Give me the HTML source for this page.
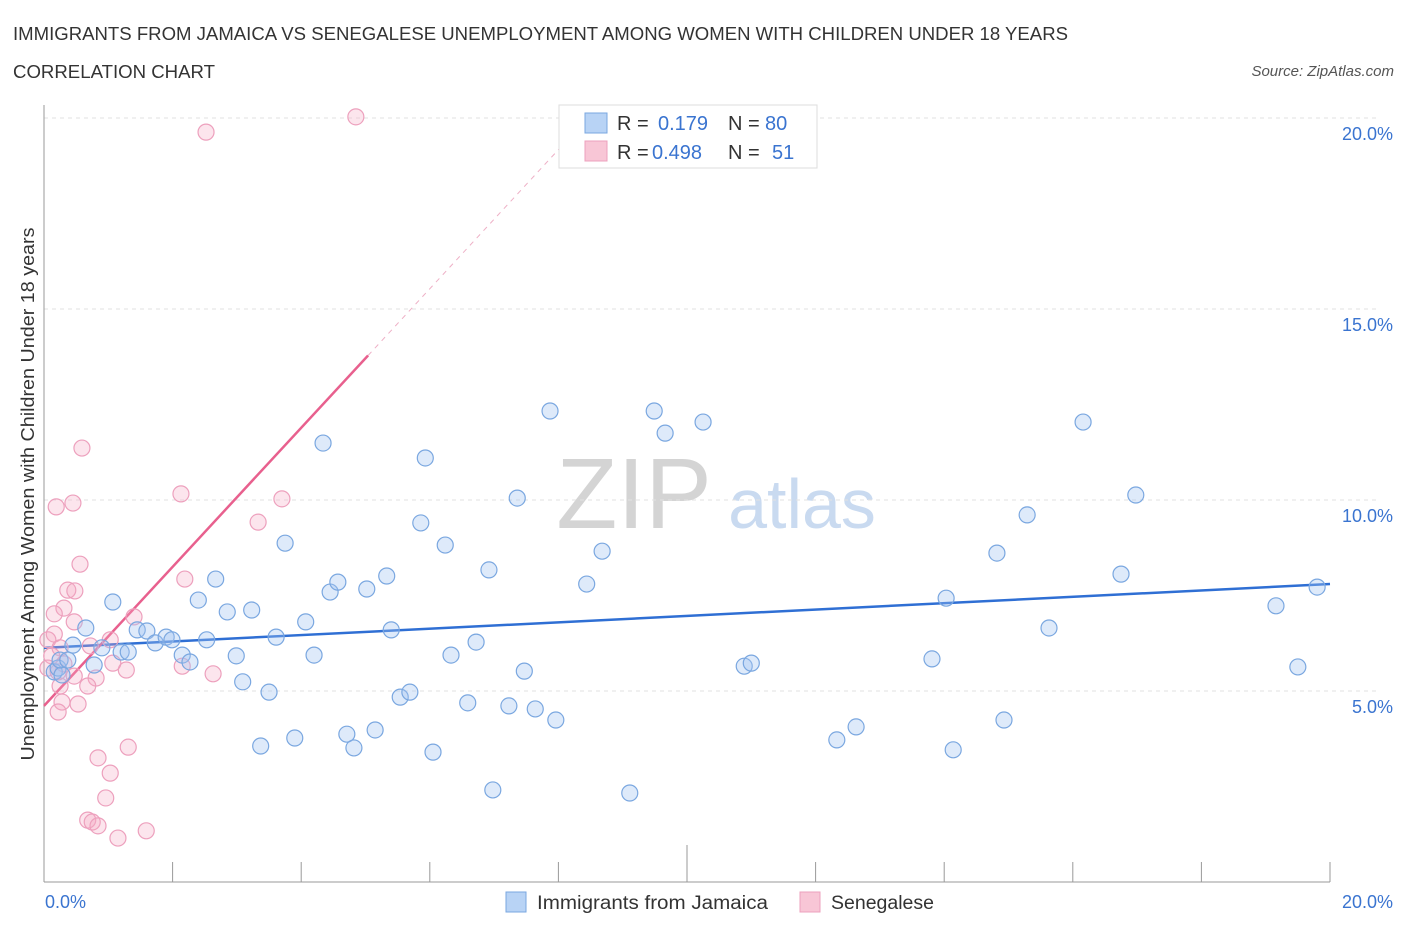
<!DOCTYPE html>
<html><head><meta charset="utf-8">
<style>
body{margin:0;background:#fff;font-family:"Liberation Sans",sans-serif;}
svg text{font-family:"Liberation Sans",sans-serif;}
</style></head>
<body>
<svg id="chart" width="1406" height="930">
<text x="13" y="40" font-size="18" fill="#333" textLength="1055" lengthAdjust="spacingAndGlyphs">IMMIGRANTS FROM JAMAICA VS SENEGALESE UNEMPLOYMENT AMONG WOMEN WITH CHILDREN UNDER 18 YEARS</text>
<text x="13" y="78" font-size="18" fill="#333" textLength="202" lengthAdjust="spacingAndGlyphs">CORRELATION CHART</text>
<text x="1394" y="76" font-size="15" fill="#555" font-style="italic" text-anchor="end">Source: ZipAtlas.com</text>
<text x="634" y="528" font-size="100" fill="#d4d4d4" font-family="Liberation Serif" text-anchor="middle">ZIP</text>
<text x="802" y="528" font-size="70" fill="#c9daf0" text-anchor="middle">atlas</text>
<text transform="translate(34,494) rotate(-90)" font-size="18" fill="#333" text-anchor="middle" textLength="533" lengthAdjust="spacingAndGlyphs">Unemployment Among Women with Children Under 18 years</text>
<g id="grid"></g><g id="axes"></g><g id="trends"></g><g id="pts"></g>
<g>
<rect x="559" y="105" width="258" height="63" fill="#fff" stroke="#ddd"/>
<rect x="585" y="113" width="22" height="20" fill="#b8d3f5" stroke="#7aa7e0"/>
<rect x="585" y="141" width="22" height="20" fill="#f8c6d6" stroke="#eda0bd"/>
<text x="617" y="130" font-size="20" fill="#333">R = </text><text x="658" y="130" font-size="20" fill="#3a74d0">0.179</text>
<text x="728" y="130" font-size="20" fill="#333">N = </text><text x="765" y="130" font-size="20" fill="#3a74d0">80</text>
<text x="617" y="159" font-size="20" fill="#333">R = </text><text x="652" y="159" font-size="20" fill="#3a74d0">0.498</text>
<text x="728" y="159" font-size="20" fill="#333">N = </text><text x="772" y="159" font-size="20" fill="#3a74d0">51</text>
</g>
<g>
<rect x="506" y="892" width="20" height="20" fill="#b8d3f5" stroke="#7aa7e0"/>
<text x="537" y="909" font-size="19" fill="#333" textLength="231" lengthAdjust="spacingAndGlyphs">Immigrants from Jamaica</text>
<rect x="800" y="892" width="20" height="20" fill="#f8c6d6" stroke="#eda0bd"/>
<text x="831" y="909" font-size="19" fill="#333" textLength="103" lengthAdjust="spacingAndGlyphs">Senegalese</text>
</g>
</svg>
<script>
const yTicks=[5,10,15,20];
const xTickLabels=["0.0%","20.0%"];
const blueX=[0.16,0.22,0.28,0.25,0.37,0.45,0.65,0.78,0.90,1.07,1.20,1.31,1.45,1.60,1.73,1.90,1.99,2.15,2.27,2.40,2.53,2.67,2.85,2.99,3.09,3.23,3.37,3.50,3.61,3.75,3.90,4.07,4.20,4.34,4.45,4.57,4.71,4.82,5.02,5.15,5.33,5.40,5.54,5.69,5.86,5.93,6.05,6.24,6.33,6.59,6.72,6.92,6.98,7.23,7.36,7.47,7.64,7.87,7.96,8.44,8.68,9.11,9.49,9.66,10.25,10.89,11.00,12.33,12.63,13.81,14.03,14.14,14.82,14.93,15.29,15.63,16.16,16.75,16.98,19.16,19.50,19.80];
const blueY=[5.50,5.60,5.42,5.81,5.81,6.20,6.65,5.68,6.13,7.33,6.02,6.02,6.60,6.57,6.26,6.41,6.34,5.94,5.76,7.38,6.34,7.93,7.07,5.92,5.24,7.12,3.56,4.97,6.41,8.87,3.77,6.81,5.94,11.49,7.59,7.85,3.87,3.51,7.67,3.98,8.01,6.60,4.84,4.97,9.40,11.10,3.40,8.82,5.94,4.69,6.28,8.17,2.41,4.61,10.05,5.52,4.53,12.33,4.24,7.80,8.66,2.33,12.33,11.75,12.04,5.65,5.73,3.72,4.06,5.84,7.43,3.46,8.61,4.24,9.61,6.65,12.04,8.06,10.13,7.23,5.63,7.72];
const pinkX=[2.52,4.85,0.59,0.19,0.45,2.13,3.70,3.33,0.56,0.37,0.48,2.19,0.31,0.16,1.40,0.47,0.16,0.06,0.25,0.72,1.03,0.12,0.31,0.06,0.22,0.47,0.81,1.28,1.07,2.15,2.63,0.68,0.25,0.53,0.28,0.22,0.84,1.31,1.03,0.96,0.68,0.75,0.84,1.59,1.15];
const pinkY=[19.63,20.03,11.36,9.82,9.92,10.16,10.03,9.42,8.32,7.64,7.62,7.93,7.17,7.02,6.94,6.81,6.49,6.34,6.13,6.18,6.34,5.92,5.71,5.60,5.50,5.39,5.34,5.55,5.73,5.65,5.45,5.13,5.13,4.66,4.71,4.45,3.25,3.53,2.85,2.20,1.62,1.57,1.47,1.34,1.15];
const blueTrend=[6.13,7.80];
const pinkTrend=[4.61,1.82];
const NS="http://www.w3.org/2000/svg";
const X0=44,X1=1330,Y0=882,Y1=118;
const sx=v=>X0+(v/20)*(X1-X0), sy=v=>Y0-(v/20)*(Y0-Y1);
function mk(t,a,p){const e=document.createElementNS(NS,t);for(const k in a)e.setAttribute(k,a[k]);p.appendChild(e);return e;}
const grid=document.getElementById('grid'),axes=document.getElementById('axes');
yTicks.forEach(t=>{
  const l=mk('line',{x1:X0,x2:X1+50,y1:sy(t),y2:sy(t),stroke:'#e2e2e2','stroke-dasharray':'4,4'},grid);
  
  
  const tx=mk('text',{x:1393,y:sy(t)+22,'font-size':18,fill:'#3a74d0','text-anchor':'end'},axes);
  tx.textContent=t.toFixed(1)+'%';
  
  
});
mk('line',{x1:X0,x2:X0,y1:105,y2:Y0,stroke:'#999'},axes);
mk('line',{x1:X0,x2:X1,y1:Y0,y2:Y0,stroke:'#999'},axes);
for(let i=0;i<=10;i++){mk('line',{x1:sx(i*2),x2:sx(i*2),y1:i==5?845:862,y2:Y0,stroke:'#999'},axes);}
const xl0=mk('text',{x:45,y:908,'font-size':18,fill:'#3a74d0'},axes);xl0.textContent=xTickLabels[0];


const xl1=mk('text',{x:1393,y:908,'font-size':18,fill:'#3a74d0','text-anchor':'end'},axes);xl1.textContent=xTickLabels[1];


const pts=document.getElementById('pts');
pinkX.forEach((x,i)=>{const c=mk('circle',{cx:sx(x),cy:sy(pinkY[i]),r:8,fill:'rgba(244,170,196,0.3)',stroke:'#eda0bd','stroke-width':1.2},pts);

});
blueX.forEach((x,i)=>{const c=mk('circle',{cx:sx(x),cy:sy(blueY[i]),r:8,fill:'rgba(160,196,240,0.35)',stroke:'#7aa7e0','stroke-width':1.2},pts);

});
const tr=document.getElementById('trends');
const bl=mk('line',{x1:sx(0),y1:sy(blueTrend[0]),x2:sx(20),y2:sy(blueTrend[1]),stroke:'#2f6fd4','stroke-width':2.5},tr);


const pe=(20-pinkTrend[0])/pinkTrend[1];
const pd=mk('line',{x1:sx(5.04),y1:sy(pinkTrend[0]+pinkTrend[1]*5.04),x2:sx(pe),y2:sy(20),stroke:'#eeb0c6','stroke-width':1,'stroke-dasharray':'5,5'},tr);


const ps=mk('line',{x1:sx(0),y1:sy(pinkTrend[0]),x2:sx(5.04),y2:sy(pinkTrend[0]+pinkTrend[1]*5.04),stroke:'#e8608e','stroke-width':2.5},tr);


</script>
</body></html>
